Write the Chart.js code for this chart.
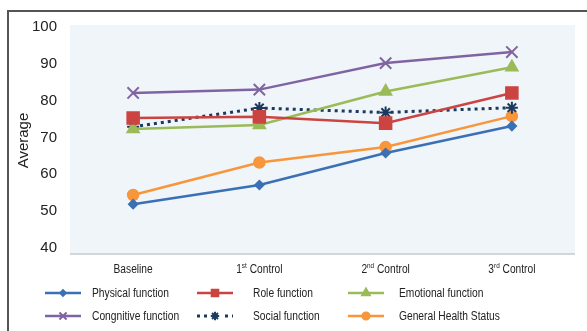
<!DOCTYPE html>
<html>
<head>
<meta charset="utf-8">
<script src="https://cdn.jsdelivr.net/npm/chart.js@4/dist/chart.umd.min.js"></script>
<style>
  html, body { margin: 0; padding: 0; background: #fff; }
  #wrap { position: relative; width: 587px; height: 331px; overflow: hidden; }
  #c { position: absolute; left: 0; top: 0; }
  #frame { position: absolute; left: 7px; top: 10px; width: 600px; height: 340px;
           border-top: 2px solid #555; border-left: 2px solid #555; pointer-events: none; }
  #legend { position: absolute; left: 0; top: 0; width: 587px; height: 331px; pointer-events: none;
            font-family: "Liberation Sans", Arial, sans-serif; font-size: 12.5px; color: #222; }
  #legend canvas, #legend span { position: absolute; }
  #legend span { line-height: 14px; white-space: nowrap; transform: scaleX(0.82); transform-origin: 0 50%; }
</style>
</head>
<body>
<div id="wrap">
  <canvas id="c" width="587" height="331"></canvas>
  <div id="legend"></div>
  <div id="frame"></div>
</div>
<script>
// Quality-of-life scores at each visit
const categories = ['Baseline', '1st Control', '2nd Control', '3rd Control'];
const physicalFunction = [51.9, 57.1, 65.8, 73.1];
const roleFunction = [75.3, 75.6, 73.9, 82.1];
const emotionalFunction = [72.3, 73.4, 82.5, 89.1];
const cognitiveFunction = [82.1, 83.0, 90.2, 93.2];
const socialFunction = [72.9, 78.0, 76.8, 78.1];
const generalHealth = [54.4, 63.2, 67.4, 75.8];
const yTicks = [40, 50, 60, 70, 80, 90, 100];

function series(label, data, color, pointStyle, radius, extra) {
  return Object.assign({
    label, data,
    borderColor: color, backgroundColor: color,
    pointBackgroundColor: color, pointBorderColor: color,
    pointStyle, pointRadius: radius, pointBorderWidth: 1.5,
    borderWidth: 2.5, tension: 0, fill: false
  }, extra || {});
}

const datasets = [
  series('Physical function', physicalFunction, '#3b70b5', 'rectRot', 4.5),
  series('Role function', roleFunction, '#cc4441', 'rect', 8.5),
  series('Emotional function', emotionalFunction, '#9bbb59', 'triangle', 7),
  series('Congnitive function', cognitiveFunction, '#8064a2', 'crossRot', 8, { pointBorderWidth: 2 }),
  series('Social function', socialFunction, '#1b3a5e', 'star', 6,
         { borderDash: [3, 4], borderWidth: 3, pointBorderWidth: 2 }),
  series('General Health Status', generalHealth, '#f7963b', 'circle', 5.5)
];

// light panel behind the plot with a grey base line
const plotPanel = {
  id: 'plotPanel',
  beforeDatasetsDraw(chart) {
    const { ctx, chartArea: a } = chart;
    ctx.save();
    ctx.fillStyle = '#eff5f9';
    ctx.fillRect(a.left, a.top - 2, a.right - a.left, a.bottom - a.top + 2);
    ctx.strokeStyle = '#c8cacc';
    ctx.lineWidth = 1.5;
    ctx.beginPath();
    ctx.moveTo(a.left, a.bottom);
    ctx.lineTo(a.right, a.bottom);
    ctx.stroke();
    ctx.restore();
  }
};

// category labels in a narrow face, with ordinal suffixes raised
const categoryLabels = {
  id: 'categoryLabels',
  afterDraw(chart) {
    const { ctx } = chart;
    const xs = chart.scales.x;
    const y = chart.chartArea.bottom + 16;
    const squeeze = 0.85;
    ctx.save();
    ctx.fillStyle = '#222';
    ctx.textBaseline = 'middle';
    ctx.textAlign = 'left';
    categories.forEach((lab, i) => {
      const m = /^(\d+)(st|nd|rd|th)(.*)$/.exec(lab);
      const parts = m ? [[m[1], 12, 0], [m[2], 7.5, -4], [m[3], 12, 0]] : [[lab, 12, 0]];
      let w = 0;
      parts.forEach(p => { ctx.font = p[1] + 'px "Liberation Sans", Arial'; w += ctx.measureText(p[0]).width; });
      const cx = xs.getPixelForValue(i);
      ctx.save();
      ctx.translate(cx - w * squeeze / 2, y);
      ctx.scale(squeeze, 1);
      let x = 0;
      parts.forEach(p => {
        ctx.font = p[1] + 'px "Liberation Sans", Arial';
        ctx.fillText(p[0], x, p[2]);
        x += ctx.measureText(p[0]).width;
      });
      ctx.restore();
    });
    ctx.restore();
  }
};

const chart = new Chart(document.getElementById('c'), {
  type: 'line',
  data: { labels: categories, datasets },
  plugins: [plotPanel, categoryLabels],
  options: {
    responsive: false,
    animation: false,
    layout: { padding: { left: 0, right: 12, top: 27, bottom: 0 } },
    plugins: { legend: { display: false }, tooltip: { enabled: false } },
    scales: {
      x: {
        offset: true,
        grid: { display: false, drawTicks: false },
        border: { display: false },
        ticks: { display: false },
        afterFit(s) { s.height = 77; }
      },
      y: {
        min: 38.37, max: 100,
        grid: { display: false, drawTicks: false },
        border: { display: false },
        afterBuildTicks(s) { s.ticks = yTicks.map(v => ({ value: v })); },
        ticks: {
          padding: 13, color: '#222',
          font: { family: '"Liberation Sans", Arial', size: 15 }
        },
        title: {
          display: true, text: 'Average', color: '#222',
          font: { family: '"Liberation Sans", Arial', size: 15 },
          padding: { top: 15, bottom: 0 }
        },
        afterFit(s) { s.width = 70; }
      }
    }
  }
});

// two-row legend laid out in three columns
const legendEl = document.getElementById('legend');
const sampleX = [45, 197, 348];
const textX = [92, 253, 399];
const rowY = [293, 316];
datasets.forEach((ds, i) => {
  const col = i % 3, row = Math.floor(i / 3);
  const cv = document.createElement('canvas');
  cv.width = 38; cv.height = 16;
  cv.style.left = (sampleX[col] - 1) + 'px';
  cv.style.top = (rowY[row] - 8) + 'px';
  legendEl.appendChild(cv);
  const g = cv.getContext('2d');
  g.strokeStyle = ds.borderColor;
  g.lineWidth = ds.borderWidth;
  g.setLineDash(ds.borderDash || []);
  g.beginPath(); g.moveTo(1, 8); g.lineTo(37, 8); g.stroke();
  g.setLineDash([]);
  if (ds.borderDash) { g.fillStyle = '#fff'; g.fillRect(13, 2, 12, 12); }
  g.fillStyle = ds.pointBackgroundColor;
  g.strokeStyle = ds.pointBorderColor;
  g.lineWidth = ds.pointBorderWidth;
  Chart.helpers.drawPoint(g, {
    pointStyle: ds.pointStyle, radius: Math.min(ds.pointRadius * 0.7, 5),
    rotation: 0, borderWidth: ds.pointBorderWidth
  }, 19, 8);
  const sp = document.createElement('span');
  sp.textContent = ds.label;
  sp.style.left = textX[col] + 'px';
  sp.style.top = (rowY[row] - 7) + 'px';
  legendEl.appendChild(sp);
});
</script>
</body>
</html>
